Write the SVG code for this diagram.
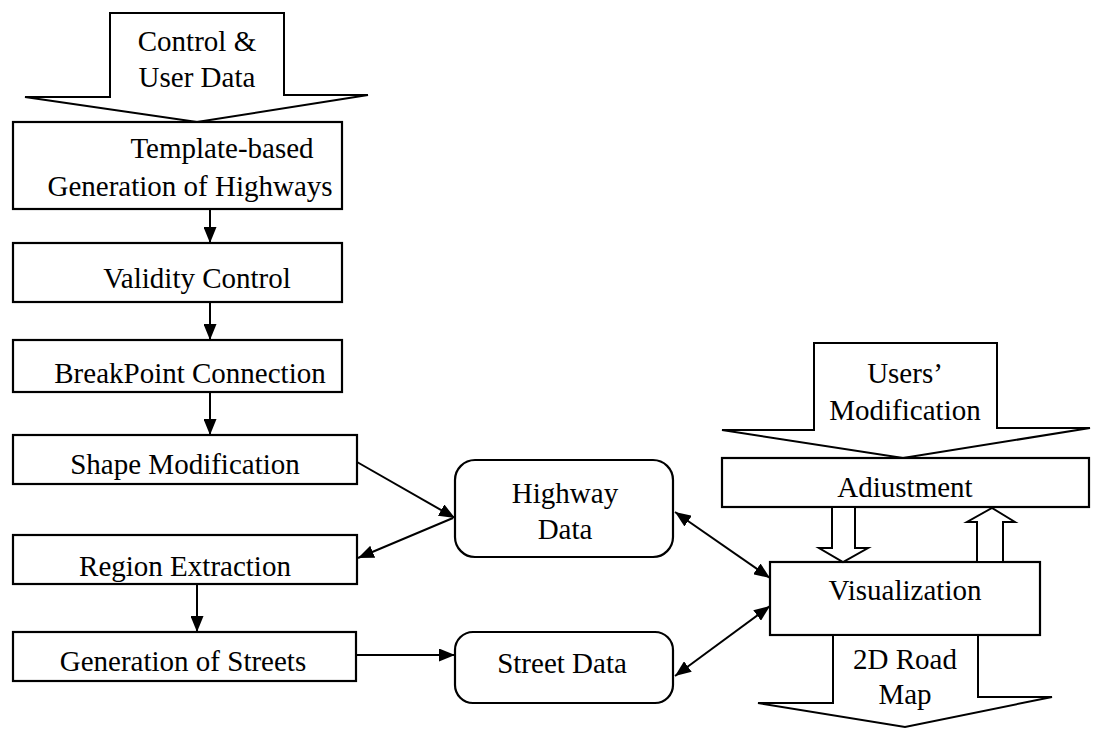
<svg xmlns="http://www.w3.org/2000/svg" width="1094" height="733" viewBox="0 0 1094 733">
<style>
.box{fill:#fff;stroke:#000;stroke-width:2.2}
.blk{fill:#fff;stroke:#000;stroke-width:2}
.t{font-family:"Liberation Serif","Times New Roman",serif;font-size:29px;fill:#000;text-anchor:middle}
.ln{stroke:#000;stroke-width:2;fill:none}
</style>
<defs>
<marker id="ah" viewBox="0 0 16 13" refX="16" refY="6.5" markerWidth="16" markerHeight="13" markerUnits="userSpaceOnUse" orient="auto-start-reverse">
<path d="M0,0 L16,6.5 L0,13 Z" fill="#000"/>
</marker>
</defs>
<rect width="1094" height="733" fill="#fff"/>
<g id="input-control">
<path class="blk" d="M110,13 L284,13 L284,95 L368,95 L197,122 L25,97 L110,97 Z"/>
<text class="t" x="197" y="51">Control &amp;</text>
<text class="t" x="197" y="87">User Data</text>
</g>
<g id="template">
<rect class="box" x="13" y="122" width="329" height="87"/>
<text class="t" x="222" y="158">Template-based</text>
<text class="t" x="190" y="196">Generation of Highways</text>
</g>
<g id="validity">
<rect class="box" x="13" y="243" width="329" height="59"/>
<text class="t" x="197" y="288">Validity Control</text>
</g>
<g id="breakpoint">
<rect class="box" x="13" y="340" width="329" height="52"/>
<text class="t" x="190" y="383">BreakPoint Connection</text>
</g>
<g id="shape">
<rect class="box" x="13" y="435" width="344" height="49"/>
<text class="t" x="185" y="474">Shape Modification</text>
</g>
<g id="region">
<rect class="box" x="13" y="535" width="344" height="49"/>
<text class="t" x="185" y="576">Region Extraction</text>
</g>
<g id="streets">
<rect class="box" x="13" y="632" width="343" height="49"/>
<text class="t" x="183" y="671">Generation of Streets</text>
</g>
<g id="highway-data">
<rect class="box" x="455" y="460" width="218" height="97" rx="20"/>
<text class="t" x="565" y="503">Highway</text>
<text class="t" x="565" y="539">Data</text>
</g>
<g id="street-data">
<rect class="box" x="455" y="632" width="218" height="71" rx="18"/>
<text class="t" x="562" y="673">Street Data</text>
</g>
<g id="users-mod">
<path class="blk" d="M814,343 L997,343 L997,428 L1090,428 L903,458 L722,430 L814,430 Z"/>
<text class="t" x="905" y="383">Users’</text>
<text class="t" x="905" y="420">Modification</text>
</g>
<g id="adjustment">
<rect class="box" x="722" y="458" width="367" height="49"/>
<text class="t" x="905" y="497">Adiustment</text>
</g>
<g id="visualization">
<rect class="box" x="770" y="562" width="270" height="73"/>
<text class="t" x="905" y="600">Visualization</text>
</g>
<g id="road-map">
<path class="blk" d="M833,635 L978,635 L978,697 L1052,697 L905,727 L758,703 L833,703 Z"/>
<text class="t" x="905" y="669">2D Road</text>
<text class="t" x="905" y="704">Map</text>
</g>
<g id="connectors">
<line class="ln" x1="210" y1="209" x2="210" y2="243" marker-end="url(#ah)"/>
<line class="ln" x1="210" y1="302" x2="210" y2="340" marker-end="url(#ah)"/>
<line class="ln" x1="210" y1="392" x2="210" y2="435" marker-end="url(#ah)"/>
<line class="ln" x1="197" y1="584" x2="197" y2="632" marker-end="url(#ah)"/>
<line class="ln" x1="357" y1="462" x2="455" y2="518" marker-end="url(#ah)"/>
<line class="ln" x1="453" y1="518" x2="358" y2="558" marker-end="url(#ah)"/>
<line class="ln" x1="356" y1="655" x2="455" y2="655" marker-end="url(#ah)"/>
<line class="ln" x1="675" y1="512" x2="770" y2="578" marker-start="url(#ah)" marker-end="url(#ah)"/>
<line class="ln" x1="675" y1="676" x2="770" y2="606" marker-start="url(#ah)" marker-end="url(#ah)"/>
<path class="blk" d="M832,507 L855,507 L855,548 L868,548 L843,562 L819,548 L832,548 Z"/>
<path class="blk" d="M977,562 L1003,562 L1003,522 L1015,522 L992,508 L967,522 L977,522 Z"/>
</g>
</svg>
